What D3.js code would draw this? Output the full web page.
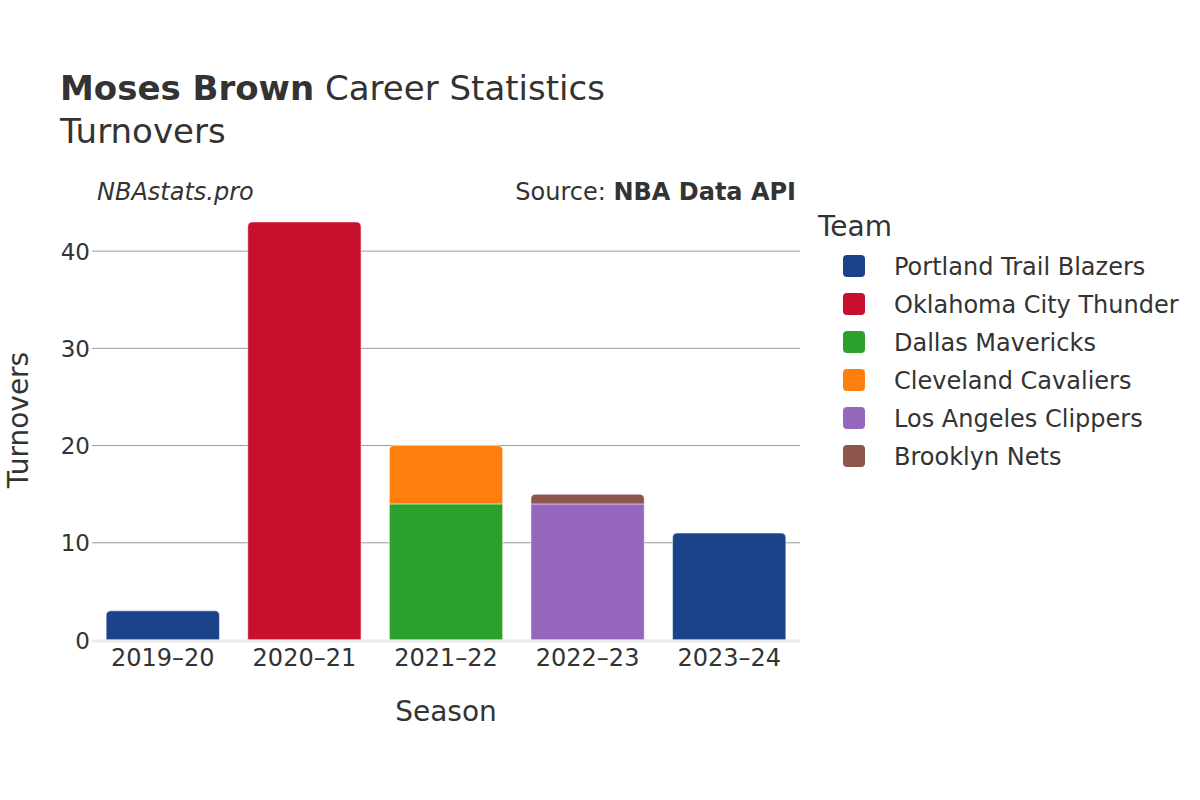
<!DOCTYPE html>
<html><head><meta charset="utf-8">
<script src="https://cdn.jsdelivr.net/npm/d3@7"></script>
<style>body{margin:0;background:#fff;} text{font-family:"DejaVu Sans",sans-serif;}</style>
</head><body><svg id="c" width="1200" height="800"></svg>
<script>
const seasons = ["2019–20","2020–21","2021–22","2022–23","2023–24"];
const teams = ["Portland Trail Blazers","Oklahoma City Thunder","Dallas Mavericks","Cleveland Cavaliers","Los Angeles Clippers","Brooklyn Nets"];
const teamColors = ["#1c428a","#c8102e","#2ca02c","#ff7f0e","#9467bd","#8c564b"];
// turnovers per season per team (stack order = team order)
const portland = [3, 0, 0, 0, 11];
const okc      = [0, 43, 0, 0, 0];
const dallas   = [0, 0, 14, 0, 0];
const cleveland= [0, 0, 6, 0, 0];
const clippers = [0, 0, 0, 14, 0];
const brooklyn = [0, 0, 0, 1, 0];
const yTicks = [0, 10, 20, 30, 40];

const series = [portland, okc, dallas, cleveland, clippers, brooklyn];
const svg = d3.select("#c");
const x = d3.scaleBand().domain(seasons).range([92, 800]).paddingInner(0.2).paddingOuter(0.1);
const y = d3.scaleLinear().domain([0, 45.26]).range([640, 200]);

// gridlines
svg.append("g").selectAll("line").data(yTicks.filter(d=>d>0)).join("line")
  .attr("x1",92).attr("x2",800).attr("y1",d=>y(d)).attr("y2",d=>y(d))
  .attr("stroke","#999").attr("stroke-width",1);

// stacked bars
const rows = seasons.map((s,i)=>{const r={season:s}; teams.forEach((t,j)=>r[t]=series[j][i]); return r;});
const stack = d3.stack().keys(teams)(rows);
const topIdx = seasons.map((s,i)=>{let k=-1; series.forEach((a,j)=>{if(a[i]>0)k=j;}); return k;});
const r = 5;
function barPath(x0,w,yTop,yBot,round){
  if(!round) return `M${x0},${yBot}V${yTop}H${x0+w}V${yBot}Z`;
  const rr=Math.min(r,(yBot-yTop));
  return `M${x0},${yBot}V${yTop+rr}Q${x0},${yTop} ${x0+rr},${yTop}H${x0+w-rr}Q${x0+w},${yTop} ${x0+w},${yTop+rr}V${yBot}Z`;
}
stack.forEach((layer,j)=>{
  svg.append("g").selectAll("path").data(layer.map((d,i)=>({d,i}))).join("path")
    .filter(o=>o.d[1]-o.d[0]>0)
    .attr("d",o=>barPath(x(seasons[o.i]),x.bandwidth(),y(o.d[1]),y(o.d[0]),topIdx[o.i]===j))
    .attr("fill",teamColors[j])
    .attr("stroke","rgba(255,255,255,0.5)").attr("stroke-width",1);
});

// zero line
svg.append("line").attr("x1",92).attr("x2",800).attr("y1",y(0)+1).attr("y2",y(0)+1)
  .attr("stroke","#eaeaea").attr("stroke-width",3);

// y axis
const yAxis = svg.append("g").attr("transform","translate(92,0)")
  .call(d3.axisLeft(y).tickValues(yTicks).tickSize(0).tickPadding(4));
yAxis.select(".domain").remove();
yAxis.selectAll("text").attr("font-size",23).attr("fill","#333").attr("font-family","DejaVu Sans").attr("x",-2).attr("dy","0.35em");

// x axis
const xAxis = svg.append("g").attr("transform","translate(0,643)")
  .call(d3.axisBottom(x).tickSize(0).tickPadding(3));
xAxis.select(".domain").remove();
xAxis.selectAll("text").attr("font-size",24).attr("fill","#333").attr("font-family","DejaVu Sans").attr("dy","0.85em");

// titles
const t = svg.append("text").attr("x",60).attr("y",100).attr("font-size",34).attr("fill","#333");
t.append("tspan").attr("font-weight","bold").text("Moses Brown");
t.append("tspan").text(" Career Statistics");
svg.append("text").attr("x",60).attr("y",143).attr("font-size",34).attr("fill","#333").text("Turnovers");
svg.append("text").attr("x",97).attr("y",200).attr("font-size",24).attr("font-style","italic").attr("fill","#333").text("NBAstats.pro");
const src = svg.append("text").attr("x",796).attr("y",200).attr("font-size",24).attr("text-anchor","end").attr("fill","#333");
src.append("tspan").text("Source: ");
src.append("tspan").attr("font-weight","bold").text("NBA Data API");
svg.append("text").attr("x",446).attr("y",721).attr("font-size",28).attr("text-anchor","middle").attr("fill","#333").text("Season");
svg.append("text").attr("transform","translate(28,420) rotate(-90)").attr("font-size",28).attr("text-anchor","middle").attr("fill","#333").text("Turnovers");

// legend
svg.append("text").attr("x",818).attr("y",236).attr("font-size",28).attr("fill","#333").text("Team");
const lg = svg.append("g").selectAll("g").data(teams).join("g")
  .attr("transform",(d,i)=>`translate(0,${266+i*38})`);
lg.append("rect").attr("x",843).attr("y",-11).attr("width",22).attr("height",22).attr("rx",4)
  .attr("fill",(d,i)=>teamColors[i]);
lg.append("text").attr("x",894).attr("y",1).attr("dy","0.35em").attr("font-size",24).attr("fill","#333").text(d=>d);
</script></body></html>
